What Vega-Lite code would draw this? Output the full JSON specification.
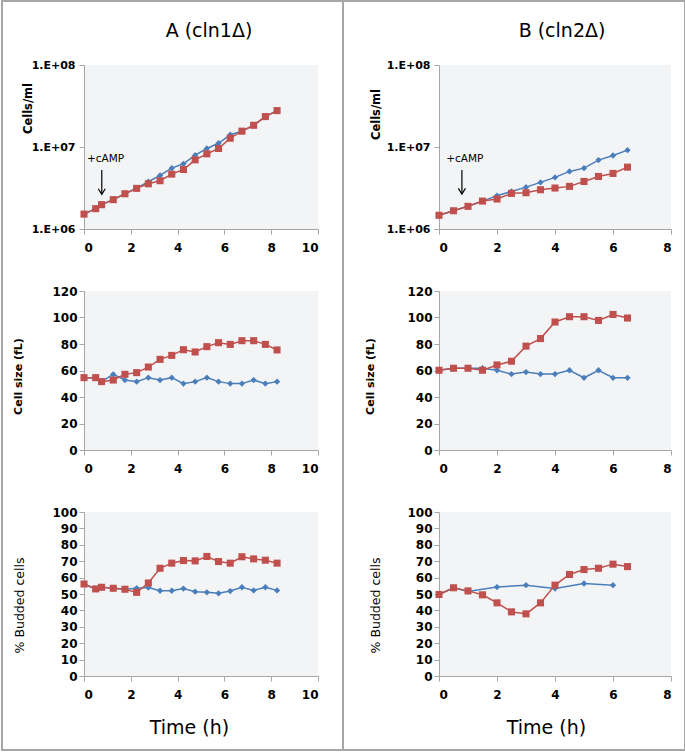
{
  "$schema": "https://vega.github.io/schema/vega-lite/v6.json",
  "padding": 0,
  "autosize": {"type": "pad"},
  "background": "white",
  "datasets": {
    "a1": [
      {"t":0,"s":"control","v":1520000},{"t":0.5,"s":"control","v":1770000},{"t":0.75,"s":"control","v":1980000},{"t":1.25,"s":"control","v":2280000},{"t":1.75,"s":"control","v":2690000},{"t":2.25,"s":"control","v":3150000},{"t":2.75,"s":"control","v":3770000},{"t":3.25,"s":"control","v":4500000},{"t":3.75,"s":"control","v":5520000},{"t":4.25,"s":"control","v":6240000},{"t":4.75,"s":"control","v":7960000},{"t":5.25,"s":"control","v":9590000},{"t":5.75,"s":"control","v":11100000},{"t":6.25,"s":"control","v":14100000},{"t":6.75,"s":"control","v":15600000},{"t":7.25,"s":"control","v":18400000},{"t":7.75,"s":"control","v":23500000},{"t":8.25,"s":"control","v":27800000},
      {"t":0,"s":"cAMP","v":1520000},{"t":0.5,"s":"cAMP","v":1770000},{"t":0.75,"s":"cAMP","v":1980000},{"t":1.25,"s":"cAMP","v":2280000},{"t":1.75,"s":"cAMP","v":2690000},{"t":2.25,"s":"cAMP","v":3130000},{"t":2.75,"s":"cAMP","v":3560000},{"t":3.25,"s":"cAMP","v":3880000},{"t":3.75,"s":"cAMP","v":4670000},{"t":4.25,"s":"cAMP","v":5320000},{"t":4.75,"s":"cAMP","v":6980000},{"t":5.25,"s":"cAMP","v":8260000},{"t":5.75,"s":"cAMP","v":9590000},{"t":6.25,"s":"cAMP","v":12800000},{"t":6.75,"s":"cAMP","v":15600000},{"t":7.25,"s":"cAMP","v":18400000},{"t":7.75,"s":"cAMP","v":23500000},{"t":8.25,"s":"cAMP","v":27800000}
    ],
    "a2": [
      {"t":0,"s":"control","v":54.6},{"t":0.5,"s":"control","v":54.6},{"t":0.75,"s":"control","v":51.6},{"t":1.25,"s":"control","v":57.1},{"t":1.75,"s":"control","v":52.8},{"t":2.25,"s":"control","v":51.6},{"t":2.75,"s":"control","v":54.6},{"t":3.25,"s":"control","v":52.8},{"t":3.75,"s":"control","v":54.6},{"t":4.25,"s":"control","v":50.1},{"t":4.75,"s":"control","v":51.6},{"t":5.25,"s":"control","v":54.6},{"t":5.75,"s":"control","v":51.6},{"t":6.25,"s":"control","v":50.1},{"t":6.75,"s":"control","v":50.1},{"t":7.25,"s":"control","v":52.8},{"t":7.75,"s":"control","v":50.1},{"t":8.25,"s":"control","v":51.6},
      {"t":0,"s":"cAMP","v":54.6},{"t":0.5,"s":"cAMP","v":54.6},{"t":0.75,"s":"cAMP","v":51.6},{"t":1.25,"s":"cAMP","v":52.8},{"t":1.75,"s":"cAMP","v":57.1},{"t":2.25,"s":"cAMP","v":58.4},{"t":2.75,"s":"cAMP","v":62.6},{"t":3.25,"s":"cAMP","v":68.4},{"t":3.75,"s":"cAMP","v":71.4},{"t":4.25,"s":"cAMP","v":75.7},{"t":4.75,"s":"cAMP","v":74.0},{"t":5.25,"s":"cAMP","v":78.0},{"t":5.75,"s":"cAMP","v":81.0},{"t":6.25,"s":"cAMP","v":79.7},{"t":6.75,"s":"cAMP","v":82.5},{"t":7.25,"s":"cAMP","v":82.5},{"t":7.75,"s":"cAMP","v":79.7},{"t":8.25,"s":"cAMP","v":75.5}
    ],
    "a3": [
      {"t":0,"s":"control","v":56.1},{"t":0.5,"s":"control","v":53.1},{"t":0.75,"s":"control","v":54.1},{"t":1.25,"s":"control","v":53.5},{"t":1.75,"s":"control","v":52.9},{"t":2.25,"s":"control","v":53.5},{"t":2.75,"s":"control","v":53.9},{"t":3.25,"s":"control","v":52.0},{"t":3.75,"s":"control","v":52.0},{"t":4.25,"s":"control","v":53.3},{"t":4.75,"s":"control","v":51.4},{"t":5.25,"s":"control","v":51.0},{"t":5.75,"s":"control","v":50.4},{"t":6.25,"s":"control","v":51.8},{"t":6.75,"s":"control","v":54.1},{"t":7.25,"s":"control","v":52.2},{"t":7.75,"s":"control","v":54.1},{"t":8.25,"s":"control","v":52.2},
      {"t":0,"s":"cAMP","v":56.1},{"t":0.5,"s":"cAMP","v":53.1},{"t":0.75,"s":"cAMP","v":54.1},{"t":1.25,"s":"cAMP","v":53.5},{"t":1.75,"s":"cAMP","v":52.9},{"t":2.25,"s":"cAMP","v":51.0},{"t":2.75,"s":"cAMP","v":56.7},{"t":3.25,"s":"cAMP","v":65.7},{"t":3.75,"s":"cAMP","v":68.8},{"t":4.25,"s":"cAMP","v":70.4},{"t":4.75,"s":"cAMP","v":70.2},{"t":5.25,"s":"cAMP","v":72.9},{"t":5.75,"s":"cAMP","v":69.8},{"t":6.25,"s":"cAMP","v":68.8},{"t":6.75,"s":"cAMP","v":72.7},{"t":7.25,"s":"cAMP","v":71.4},{"t":7.75,"s":"cAMP","v":70.6},{"t":8.25,"s":"cAMP","v":68.8}
    ],
    "b1": [
      {"t":0,"s":"control","v":1470000},{"t":0.5,"s":"control","v":1670000},{"t":1,"s":"control","v":1890000},{"t":1.5,"s":"control","v":2190000},{"t":2,"s":"control","v":2550000},{"t":2.5,"s":"control","v":2870000},{"t":3,"s":"control","v":3240000},{"t":3.5,"s":"control","v":3700000},{"t":4,"s":"control","v":4260000},{"t":4.5,"s":"control","v":5040000},{"t":5,"s":"control","v":5520000},{"t":5.5,"s":"control","v":6920000},{"t":6,"s":"control","v":7880000},{"t":6.5,"s":"control","v":9150000},
      {"t":0,"s":"cAMP","v":1470000},{"t":0.5,"s":"cAMP","v":1670000},{"t":1,"s":"cAMP","v":1890000},{"t":1.5,"s":"cAMP","v":2190000},{"t":2,"s":"cAMP","v":2320000},{"t":2.5,"s":"cAMP","v":2720000},{"t":3,"s":"cAMP","v":2770000},{"t":3.5,"s":"cAMP","v":3010000},{"t":4,"s":"cAMP","v":3160000},{"t":4.5,"s":"cAMP","v":3310000},{"t":5,"s":"cAMP","v":3800000},{"t":5.5,"s":"cAMP","v":4370000},{"t":6,"s":"cAMP","v":4760000},{"t":6.5,"s":"cAMP","v":5680000}
    ],
    "b2": [
      {"t":0,"s":"control","v":60.2},{"t":0.5,"s":"control","v":61.7},{"t":1,"s":"control","v":61.7},{"t":1.5,"s":"control","v":61.7},{"t":2,"s":"control","v":60.2},{"t":2.5,"s":"control","v":57.3},{"t":3,"s":"control","v":58.8},{"t":3.5,"s":"control","v":57.3},{"t":4,"s":"control","v":57.3},{"t":4.5,"s":"control","v":60.2},{"t":5,"s":"control","v":54.5},{"t":5.5,"s":"control","v":60.2},{"t":6,"s":"control","v":54.5},{"t":6.5,"s":"control","v":54.5},
      {"t":0,"s":"cAMP","v":60.2},{"t":0.5,"s":"cAMP","v":61.7},{"t":1,"s":"cAMP","v":61.7},{"t":1.5,"s":"cAMP","v":60.2},{"t":2,"s":"cAMP","v":64.2},{"t":2.5,"s":"cAMP","v":67.0},{"t":3,"s":"cAMP","v":78.4},{"t":3.5,"s":"cAMP","v":84.1},{"t":4,"s":"cAMP","v":96.6},{"t":4.5,"s":"cAMP","v":100.6},{"t":5,"s":"cAMP","v":100.6},{"t":5.5,"s":"cAMP","v":97.8},{"t":6,"s":"cAMP","v":102.3},{"t":6.5,"s":"cAMP","v":99.6}
    ],
    "b3": [
      {"t":0,"s":"control","v":49.7},{"t":0.5,"s":"control","v":53.8},{"t":1,"s":"control","v":51.5},{"t":2,"s":"control","v":54.2},{"t":3,"s":"control","v":55.4},{"t":4,"s":"control","v":53.3},{"t":5,"s":"control","v":56.4},{"t":6,"s":"control","v":55.4},
      {"t":0,"s":"cAMP","v":49.7},{"t":0.5,"s":"cAMP","v":53.8},{"t":1,"s":"cAMP","v":51.9},{"t":1.5,"s":"cAMP","v":49.5},{"t":2,"s":"cAMP","v":44.6},{"t":2.5,"s":"cAMP","v":39.1},{"t":3,"s":"cAMP","v":37.9},{"t":3.5,"s":"cAMP","v":44.6},{"t":4,"s":"cAMP","v":55.4},{"t":4.5,"s":"cAMP","v":61.9},{"t":5,"s":"cAMP","v":64.9},{"t":5.5,"s":"cAMP","v":65.7},{"t":6,"s":"cAMP","v":68.2},{"t":6.5,"s":"cAMP","v":66.7}
    ]
  },
  "concat": [
    {
      "width": 234, "height": 164,
      "title": {"text": "A (cln1Δ)", "anchor": "middle", "dx": 8, "offset": 3, "baseline": "alphabetic", "fontSize": 19, "font": "DejaVu Sans", "fontWeight": "normal", "color": "#000"},
      "layer": [
        {"data": {"name": "a1"},
         "encoding": {
           "x": {"field": "t", "type": "quantitative", "scale": {"domain": [0, 10], "nice": false, "zero": false}, "axis": {"values": [0, 2, 4, 6, 8, 10], "title": null}},
           "y": {"field": "v", "type": "quantitative", "scale": {"type": "log", "domain": [1000000, 100000000], "nice": false}, "axis": {"values": [1000000, 10000000, 100000000], "labelExpr": "datum.value > 50000000 ? '1.E+08' : datum.value > 5000000 ? '1.E+07' : '1.E+06'", "labelFontSize": 11, "labelPadding": 4, "title": "Cells/ml", "titleFontSize": 11.5, "titleFontWeight": "bold", "titleX": -56, "titleY": 43, "titleBaseline": "middle"}}
         },
         "layer": [
           {"transform": [{"filter": "datum.s === 'control'"}],
            "mark": {"type": "line", "color": "#4a7ebb", "strokeWidth": 1.5, "point": {"shape": "diamond", "size": 40, "color": "#4a7ebb", "filled": true}}},
           {"transform": [{"filter": "datum.s === 'cAMP'"}],
            "mark": {"type": "line", "color": "#c0504d", "strokeWidth": 1.5, "point": {"shape": "square", "size": 50, "color": "#c0504d", "filled": true}}}
         ]},
        {"data": {"values": [{}]}, "mark": {"type": "rule", "color": "#000", "strokeWidth": 1.2},
         "encoding": {
           "x": {"datum": 0.76, "type": "quantitative", "scale": {"domain": [0, 10], "nice": false, "zero": false}, "axis": {"values": [0, 2, 4, 6, 8, 10], "title": null}},
           "y": {"datum": 5250000, "type": "quantitative", "scale": {"type": "log", "domain": [1000000, 100000000], "nice": false}, "axis": {"values": [1000000, 10000000, 100000000], "labelExpr": "datum.value > 50000000 ? '1.E+08' : datum.value > 5000000 ? '1.E+07' : '1.E+06'", "labelFontSize": 11, "labelPadding": 4, "title": "Cells/ml", "titleFontSize": 11.5, "titleFontWeight": "bold", "titleX": -56, "titleY": 43, "titleBaseline": "middle"}},
           "y2": {"datum": 2650000}
         }},
        {"data": {"values": [{}]}, "mark": {"type": "point", "shape": "M-1,-1.6L0,0L1,-1.6", "size": 49, "filled": false, "stroke": "#000", "strokeWidth": 1.2, "opacity": 1},
         "encoding": {
           "x": {"datum": 0.76, "type": "quantitative", "scale": {"domain": [0, 10], "nice": false, "zero": false}, "axis": {"values": [0, 2, 4, 6, 8, 10], "title": null}},
           "y": {"datum": 2650000, "type": "quantitative", "scale": {"type": "log", "domain": [1000000, 100000000], "nice": false}, "axis": {"values": [1000000, 10000000, 100000000], "labelExpr": "datum.value > 50000000 ? '1.E+08' : datum.value > 5000000 ? '1.E+07' : '1.E+06'", "labelFontSize": 11, "labelPadding": 4, "title": "Cells/ml", "titleFontSize": 11.5, "titleFontWeight": "bold", "titleX": -56, "titleY": 43, "titleBaseline": "middle"}}
         }},
        {"data": {"values": [{}]}, "mark": {"type": "text", "text": "+cAMP", "font": "DejaVu Sans", "fontSize": 10.5, "align": "center", "baseline": "middle", "color": "#000"},
         "encoding": {
           "x": {"datum": 0.92, "type": "quantitative", "scale": {"domain": [0, 10], "nice": false, "zero": false}, "axis": {"values": [0, 2, 4, 6, 8, 10], "title": null}},
           "y": {"datum": 7100000, "type": "quantitative", "scale": {"type": "log", "domain": [1000000, 100000000], "nice": false}, "axis": {"values": [1000000, 10000000, 100000000], "labelExpr": "datum.value > 50000000 ? '1.E+08' : datum.value > 5000000 ? '1.E+07' : '1.E+06'", "labelFontSize": 11, "labelPadding": 4, "title": "Cells/ml", "titleFontSize": 11.5, "titleFontWeight": "bold", "titleX": -56, "titleY": 43, "titleBaseline": "middle"}}
         }}
      ]
    },
    {
      "width": 232, "height": 164,
      "title": {"text": "B (cln2Δ)", "anchor": "middle", "dx": 7, "offset": 3, "baseline": "alphabetic", "fontSize": 19, "font": "DejaVu Sans", "fontWeight": "normal", "color": "#000"},
      "layer": [
        {"data": {"name": "b1"},
         "encoding": {
           "x": {"field": "t", "type": "quantitative", "scale": {"domain": [0, 8], "nice": false, "zero": false}, "axis": {"values": [0, 2, 4, 6, 8], "title": null}},
           "y": {"field": "v", "type": "quantitative", "scale": {"type": "log", "domain": [1000000, 100000000], "nice": false}, "axis": {"values": [1000000, 10000000, 100000000], "labelExpr": "datum.value > 50000000 ? '1.E+08' : datum.value > 5000000 ? '1.E+07' : '1.E+06'", "labelFontSize": 11, "labelPadding": 4, "title": "Cells/ml", "titleFontSize": 11.5, "titleFontWeight": "bold", "titleX": -63, "titleY": 49, "titleBaseline": "middle"}}
         },
         "layer": [
           {"transform": [{"filter": "datum.s === 'control'"}],
            "mark": {"type": "line", "color": "#4a7ebb", "strokeWidth": 1.5, "point": {"shape": "diamond", "size": 40, "color": "#4a7ebb", "filled": true}}},
           {"transform": [{"filter": "datum.s === 'cAMP'"}],
            "mark": {"type": "line", "color": "#c0504d", "strokeWidth": 1.5, "point": {"shape": "square", "size": 50, "color": "#c0504d", "filled": true}}}
         ]},
        {"data": {"values": [{}]}, "mark": {"type": "rule", "color": "#000", "strokeWidth": 1.2},
         "encoding": {
           "x": {"datum": 0.79, "type": "quantitative", "scale": {"domain": [0, 8], "nice": false, "zero": false}, "axis": {"values": [0, 2, 4, 6, 8], "title": null}},
           "y": {"datum": 5250000, "type": "quantitative", "scale": {"type": "log", "domain": [1000000, 100000000], "nice": false}, "axis": {"values": [1000000, 10000000, 100000000], "labelExpr": "datum.value > 50000000 ? '1.E+08' : datum.value > 5000000 ? '1.E+07' : '1.E+06'", "labelFontSize": 11, "labelPadding": 4, "title": "Cells/ml", "titleFontSize": 11.5, "titleFontWeight": "bold", "titleX": -63, "titleY": 49, "titleBaseline": "middle"}},
           "y2": {"datum": 2670000}
         }},
        {"data": {"values": [{}]}, "mark": {"type": "point", "shape": "M-1,-1.6L0,0L1,-1.6", "size": 49, "filled": false, "stroke": "#000", "strokeWidth": 1.2, "opacity": 1},
         "encoding": {
           "x": {"datum": 0.79, "type": "quantitative", "scale": {"domain": [0, 8], "nice": false, "zero": false}, "axis": {"values": [0, 2, 4, 6, 8], "title": null}},
           "y": {"datum": 2670000, "type": "quantitative", "scale": {"type": "log", "domain": [1000000, 100000000], "nice": false}, "axis": {"values": [1000000, 10000000, 100000000], "labelExpr": "datum.value > 50000000 ? '1.E+08' : datum.value > 5000000 ? '1.E+07' : '1.E+06'", "labelFontSize": 11, "labelPadding": 4, "title": "Cells/ml", "titleFontSize": 11.5, "titleFontWeight": "bold", "titleX": -63, "titleY": 49, "titleBaseline": "middle"}}
         }},
        {"data": {"values": [{}]}, "mark": {"type": "text", "text": "+cAMP", "font": "DejaVu Sans", "fontSize": 10.5, "align": "center", "baseline": "middle", "color": "#000"},
         "encoding": {
           "x": {"datum": 0.89, "type": "quantitative", "scale": {"domain": [0, 8], "nice": false, "zero": false}, "axis": {"values": [0, 2, 4, 6, 8], "title": null}},
           "y": {"datum": 7100000, "type": "quantitative", "scale": {"type": "log", "domain": [1000000, 100000000], "nice": false}, "axis": {"values": [1000000, 10000000, 100000000], "labelExpr": "datum.value > 50000000 ? '1.E+08' : datum.value > 5000000 ? '1.E+07' : '1.E+06'", "labelFontSize": 11, "labelPadding": 4, "title": "Cells/ml", "titleFontSize": 11.5, "titleFontWeight": "bold", "titleX": -63, "titleY": 49, "titleBaseline": "middle"}}
         }}
      ]
    },
    {
      "width": 234, "height": 159,
      "data": {"name": "a2"},
      "encoding": {
        "x": {"field": "t", "type": "quantitative", "scale": {"domain": [0, 10], "nice": false, "zero": false}, "axis": {"values": [0, 2, 4, 6, 8, 10], "title": null}},
        "y": {"field": "v", "type": "quantitative", "scale": {"domain": [0, 120], "nice": false}, "axis": {"values": [0, 20, 40, 60, 80, 100, 120], "title": "Cell size (fL)", "titleFontSize": 11, "titleFontWeight": "bold", "titleX": -66, "titleY": 85, "titleBaseline": "middle"}}
      },
      "layer": [
        {"transform": [{"filter": "datum.s === 'control'"}],
         "mark": {"type": "line", "color": "#4a7ebb", "strokeWidth": 1.5, "point": {"shape": "diamond", "size": 40, "color": "#4a7ebb", "filled": true}}},
        {"transform": [{"filter": "datum.s === 'cAMP'"}],
         "mark": {"type": "line", "color": "#c0504d", "strokeWidth": 1.5, "point": {"shape": "square", "size": 50, "color": "#c0504d", "filled": true}}}
      ]
    },
    {
      "width": 232, "height": 159,
      "data": {"name": "b2"},
      "encoding": {
        "x": {"field": "t", "type": "quantitative", "scale": {"domain": [0, 8], "nice": false, "zero": false}, "axis": {"values": [0, 2, 4, 6, 8], "title": null}},
        "y": {"field": "v", "type": "quantitative", "scale": {"domain": [0, 120], "nice": false}, "axis": {"values": [0, 20, 40, 60, 80, 100, 120], "title": "Cell size (fL)", "titleFontSize": 11, "titleFontWeight": "bold", "titleX": -69, "titleY": 85, "titleBaseline": "middle"}}
      },
      "layer": [
        {"transform": [{"filter": "datum.s === 'control'"}],
         "mark": {"type": "line", "color": "#4a7ebb", "strokeWidth": 1.5, "point": {"shape": "diamond", "size": 40, "color": "#4a7ebb", "filled": true}}},
        {"transform": [{"filter": "datum.s === 'cAMP'"}],
         "mark": {"type": "line", "color": "#c0504d", "strokeWidth": 1.5, "point": {"shape": "square", "size": 50, "color": "#c0504d", "filled": true}}}
      ]
    },
    {
      "width": 234, "height": 164,
      "data": {"name": "a3"},
      "encoding": {
        "x": {"field": "t", "type": "quantitative", "scale": {"domain": [0, 10], "nice": false, "zero": false}, "axis": {"values": [0, 2, 4, 6, 8, 10], "title": "Time (h)", "titleFontSize": 19, "titleFontWeight": "normal", "titleX": 105, "titleY": 51, "titleBaseline": "middle"}},
        "y": {"field": "v", "type": "quantitative", "scale": {"domain": [0, 100], "nice": false}, "axis": {"values": [0, 10, 20, 30, 40, 50, 60, 70, 80, 90, 100], "title": "% Budded cells", "titleFontSize": 12.5, "titleFontWeight": "normal", "titleX": -65, "titleY": 93, "titleBaseline": "middle"}}
      },
      "layer": [
        {"transform": [{"filter": "datum.s === 'control'"}],
         "mark": {"type": "line", "color": "#4a7ebb", "strokeWidth": 1.5, "point": {"shape": "diamond", "size": 40, "color": "#4a7ebb", "filled": true}}},
        {"transform": [{"filter": "datum.s === 'cAMP'"}],
         "mark": {"type": "line", "color": "#c0504d", "strokeWidth": 1.5, "point": {"shape": "square", "size": 50, "color": "#c0504d", "filled": true}}}
      ]
    },
    {
      "width": 232, "height": 164,
      "layer": [
        {"data": {"name": "b3"},
         "encoding": {
           "x": {"field": "t", "type": "quantitative", "scale": {"domain": [0, 8], "nice": false, "zero": false}, "axis": {"values": [0, 2, 4, 6, 8], "title": "Time (h)", "titleFontSize": 19, "titleFontWeight": "normal", "titleX": 107, "titleY": 51, "titleBaseline": "middle"}},
           "y": {"field": "v", "type": "quantitative", "scale": {"domain": [0, 100], "nice": false}, "axis": {"values": [0, 10, 20, 30, 40, 50, 60, 70, 80, 90, 100], "title": "% Budded cells", "titleFontSize": 12.5, "titleFontWeight": "normal", "titleX": -64, "titleY": 93, "titleBaseline": "middle"}}
         },
         "layer": [
           {"transform": [{"filter": "datum.s === 'control'"}],
            "mark": {"type": "line", "color": "#4a7ebb", "strokeWidth": 1.5, "point": {"shape": "diamond", "size": 40, "color": "#4a7ebb", "filled": true}}},
           {"transform": [{"filter": "datum.s === 'cAMP'"}],
            "mark": {"type": "line", "color": "#c0504d", "strokeWidth": 1.5, "point": {"shape": "square", "size": 50, "color": "#c0504d", "filled": true}}}
         ]},
        {"data": {"values": [{}]}, "mark": {"type": "rect", "fillOpacity": 0, "stroke": "#a6a6a6", "strokeWidth": 2},
         "encoding": {
           "x": {"datum": -15.069, "type": "quantitative", "scale": {"domain": [0, 8], "nice": false, "zero": false}, "axis": {"values": [0, 2, 4, 6, 8], "title": "Time (h)", "titleFontSize": 19, "titleFontWeight": "normal", "titleX": 107, "titleY": 51, "titleBaseline": "middle"}},
           "x2": {"datum": 8.4828},
           "y": {"datum": 411.585, "type": "quantitative", "scale": {"domain": [0, 100], "nice": false}, "axis": {"values": [0, 10, 20, 30, 40, 50, 60, 70, 80, 90, 100], "title": "% Budded cells", "titleFontSize": 12.5, "titleFontWeight": "normal", "titleX": -64, "titleY": 93, "titleBaseline": "middle"}},
           "y2": {"datum": -45.122}
         }},
        {"data": {"values": [{}]}, "mark": {"type": "rule", "color": "#a6a6a6", "strokeWidth": 2},
         "encoding": {
           "x": {"datum": -3.3103, "type": "quantitative", "scale": {"domain": [0, 8], "nice": false, "zero": false}, "axis": {"values": [0, 2, 4, 6, 8], "title": "Time (h)", "titleFontSize": 19, "titleFontWeight": "normal", "titleX": 107, "titleY": 51, "titleBaseline": "middle"}},
           "y": {"datum": 411.585, "type": "quantitative", "scale": {"domain": [0, 100], "nice": false}, "axis": {"values": [0, 10, 20, 30, 40, 50, 60, 70, 80, 90, 100], "title": "% Budded cells", "titleFontSize": 12.5, "titleFontWeight": "normal", "titleX": -64, "titleY": 93, "titleBaseline": "middle"}},
           "y2": {"datum": -45.122}
         }}
      ]
    }
  ],
  "columns": 2,
  "spacing": {"row": 62, "column": 121},
  "bounds": "flush",
  "align": "each",
  "config": {
    "view": {"fill": "#f3f4f6", "stroke": null},
    "axis": {"grid": false, "labelOverlap": false, "domainColor": "#a6a6a6", "tickColor": "#a6a6a6", "tickSize": 5, "labelFont": "DejaVu Sans", "labelFontWeight": "bold", "labelFontSize": 12, "labelColor": "#000", "titleColor": "#000", "titleFont": "DejaVu Sans"},
    "axisX": {"labelPadding": 8},
    "axisY": {"labelPadding": 2}
  }
}
